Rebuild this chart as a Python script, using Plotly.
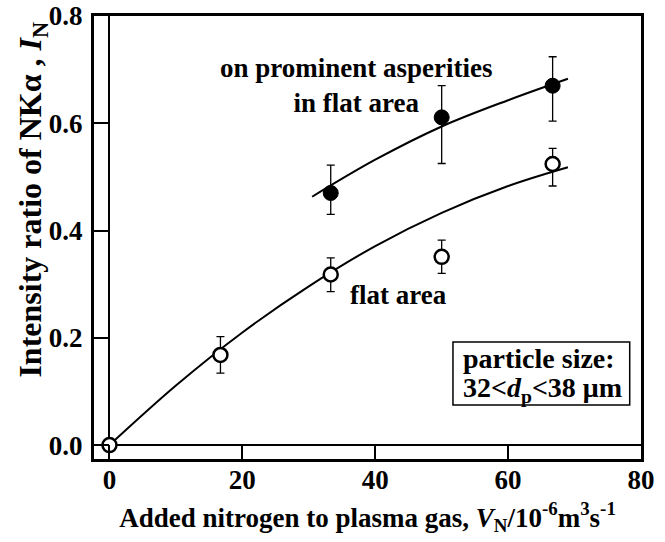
import plotly.graph_objects as go

# ---- data ----
flow = [0.0, 16.7, 33.3, 50.0, 66.7]
flat_I = [0.0, 0.168, 0.318, 0.351, 0.524]
flat_err_plus = [0.0, 0.034, 0.031, 0.031, 0.029]
flat_err_minus = [0.0, 0.034, 0.032, 0.031, 0.041]

asp_flow = [33.3, 50.0, 66.7]
asp_I = [0.470, 0.611, 0.670]
asp_err_plus = [0.052, 0.059, 0.054]
asp_err_minus = [0.040, 0.086, 0.066]

flat_fit_x = [0, 10, 20, 30, 40, 50, 60, 69]
flat_fit_y = [0.0, 0.111, 0.210, 0.296, 0.371, 0.433, 0.483, 0.518]
asp_fit_x = [30.5, 40, 50, 60, 69]
asp_fit_y = [0.463, 0.532, 0.594, 0.643, 0.683]

x_tickvals = [0, 20, 40, 60, 80]
x_ticktext = ["0", "20", "40", "60", "80"]
y_tickvals = [0.0, 0.2, 0.4, 0.6, 0.8]
y_ticktext = ["0.0", "0.2", "0.4", "0.6", "0.8"]

FONT = "Liberation Serif, Times New Roman, serif"


def bold(size):
    return dict(family=FONT, size=size, color="black", weight="bold")


fig = go.Figure()
fig.add_trace(go.Scatter(x=flat_fit_x, y=flat_fit_y, mode="lines", line_shape="spline",
                         line=dict(color="black", width=2), showlegend=False))
fig.add_trace(go.Scatter(x=asp_fit_x, y=asp_fit_y, mode="lines", line_shape="spline",
                         line=dict(color="black", width=2), showlegend=False))
fig.add_trace(go.Scatter(
    x=flow, y=flat_I, mode="markers", showlegend=False,
    marker=dict(symbol="circle", size=14, color="white", line=dict(color="black", width=2.5)),
    error_y=dict(type="data", array=flat_err_plus, arrayminus=flat_err_minus,
                 color="black", thickness=1.3, width=4)))
fig.add_trace(go.Scatter(
    x=asp_flow, y=asp_I, mode="markers", showlegend=False,
    marker=dict(symbol="circle", size=15, color="black", line=dict(color="black", width=1)),
    error_y=dict(type="data", array=asp_err_plus, arrayminus=asp_err_minus,
                 color="black", thickness=1.3, width=4)))

axis_common = dict(showline=True, mirror=True, linecolor="black", linewidth=3,
                   ticks="inside", tickwidth=2, tickcolor="black", showgrid=False,
                   zeroline=True, zerolinecolor="black", zerolinewidth=2, automargin=False,
                   tickfont=bold(27))

fig.update_xaxes(range=[-2.33, 80], tickvals=x_tickvals, ticktext=x_ticktext, ticklen=14,
                 ticklabelstandoff=-5,
                 title=dict(text="Added nitrogen to plasma gas, <i>V</i><sub>N</sub>/10<sup>-6</sup>m<sup>3</sup>s<sup>-1</sup>",
                            font=bold(27), standoff=14),
                 **axis_common)
fig.update_yaxes(range=[-0.026, 0.8], tickvals=y_tickvals, ticktext=y_ticktext, ticklen=15,
                 ticklabelstandoff=3,
                 **axis_common)

# y-axis title (placed as rotated text to match the reference position)
fig.add_annotation(x=-0.112, y=0.585, xref="paper", yref="paper", showarrow=False,
                   textangle=-90, xanchor="center", yanchor="middle",
                   text="Intensity ratio of NKα , <i>I</i><sub>N</sub>",
                   font=bold(32))

fig.add_annotation(x=37.2, y=0.670, xref="x", yref="y", showarrow=False,
                   text="on prominent asperities<br>in flat area", align="center",
                   font=bold(27))
fig.add_annotation(x=43.5, y=0.280, xref="x", yref="y", showarrow=False,
                   text="flat area", font=bold(27))

# particle-size box
fig.add_shape(type="rect", xref="x", yref="y", x0=51.7, x1=78.3, y0=0.0746, y1=0.192,
              line=dict(color="black", width=1.5), fillcolor="white", layer="above")
fig.add_annotation(x=52.9, y=0.162, xref="x", yref="y", showarrow=False,
                   xanchor="left", yanchor="middle", text="particle size:", font=bold(28))
fig.add_annotation(x=52.9, y=0.104, xref="x", yref="y", showarrow=False,
                   xanchor="left", yanchor="middle",
                   text="32&lt;<i>d</i><sub>p</sub>&lt;38 μm", font=bold(28))

fig.update_layout(width=665, height=542,
                  margin=dict(l=94, r=24, t=16, b=83, autoexpand=False),
                  plot_bgcolor="white", paper_bgcolor="white")

fig.write_html("out.html")
